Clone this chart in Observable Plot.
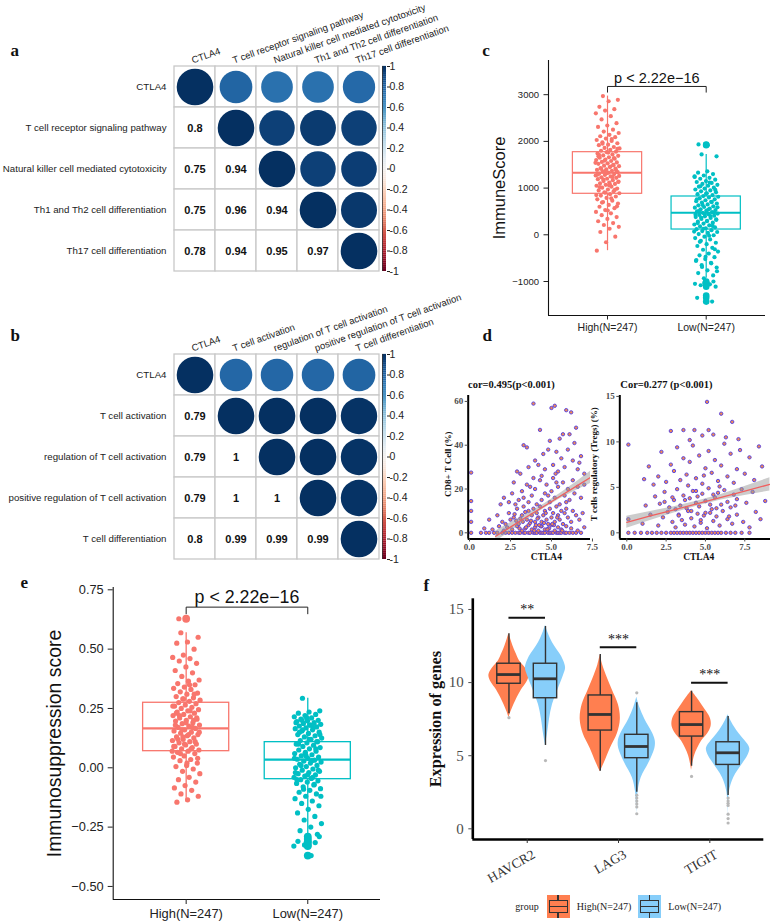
<!DOCTYPE html>
<html><head><meta charset="utf-8">
<script src="https://cdn.jsdelivr.net/npm/d3@7"></script>
<script src="https://cdn.jsdelivr.net/npm/@observablehq/plot@0.6"></script>
<style>
html,body{margin:0;padding:0;background:#fff;}
#fig{position:relative;width:779px;height:922px;overflow:hidden;background:#fff;}
#fig svg{position:absolute;}
.leg{position:absolute;font-family:"Liberation Serif","Times New Roman",serif;font-size:10px;color:#222;line-height:1;white-space:nowrap;}
.key{position:absolute;width:23px;height:23px;}
.key .wh{position:absolute;left:10.8px;width:1.5px;top:0;height:23px;background:#333;}
.key .bx{position:absolute;box-sizing:border-box;left:2px;top:5px;width:19px;height:13px;border:1.5px solid #333;background:inherit;}
.key .md{position:absolute;left:2px;top:10.7px;width:19px;height:1.6px;background:#333;}
</style></head>
<body><div id="fig">
<div class="leg" style="left:511px;top:902px;width:32px;text-align:center">group</div>
<div class="key" style="left:546.7px;top:895px;background:coral"><div class="wh"></div><div class="bx"></div><div class="md"></div></div>
<div class="leg" style="left:576.7px;top:902px">High(N=247)</div>
<div class="key" style="left:638px;top:895px;background:lightskyblue"><div class="wh"></div><div class="bx"></div><div class="md"></div></div>
<div class="leg" style="left:668.3px;top:902px">Low(N=247)</div>
</div>
<script>
// ================= DATA =================
// a: correlation matrix
const corrALabels = ["CTLA4","T cell receptor signaling pathway","Natural killer cell mediated cytotoxicity","Th1 and Th2 cell differentiation","Th17 cell differentiation"];
const corrAValues = [
  [1, 0.8, 0.75, 0.75, 0.78],
  [0.8, 1, 0.94, 0.96, 0.94],
  [0.75, 0.94, 1, 0.94, 0.95],
  [0.75, 0.96, 0.94, 1, 0.97],
  [0.78, 0.94, 0.95, 0.97, 1]];
// b: correlation matrix
const corrBLabels = ["CTLA4","T cell activation","regulation of T cell activation","positive regulation of T cell activation","T cell differentiation"];
const corrBValues = [
  [1, 0.79, 0.79, 0.79, 0.8],
  [0.79, 1, 1, 1, 0.99],
  [0.79, 1, 1, 1, 0.99],
  [0.79, 1, 1, 1, 0.99],
  [0.8, 0.99, 0.99, 0.99, 1]];
const colorbarTicks = [-1, -0.8, -0.6, -0.4, -0.2, 0, 0.2, 0.4, 0.6, 0.8, 1];

// c / e groups
const groupLabels = ["High(N=247)", "Low(N=247)"];
const pLabel = "p < 2.22e\u221216";

// c: ImmuneScore
const immuneHigh = [2970,2890,2860,2740,2690,2660,2600,2540,2470,2390,2340,2310,2250,2210,2180,2140,2110,2090,2060,2030,2010,1980,1960,1930,1920,1880,1860,1850,1820,1800,1780,1770,1740,1720,1700,1690,1660,1650,1630,1610,1600,1580,1560,1550,1530,1520,1500,1480,1470,1450,1430,1420,1400,1390,1370,1350,1340,1330,1310,1300,1280,1270,1250,1230,1220,1200,1190,1170,1150,1140,1120,1100,1090,1070,1050,1030,1010,990,970,950,930,910,890,870,840,820,790,760,730,700,670,640,600,570,530,490,460,420,380,340,290,250,210,170,130,60,-40,-160,-340,
 2050,1950,1840,1760,1710,1640,1590,1540,1460,1410,1380,1320,1290,1240,1180,1130,1060,1020,960,900,850,780,690,610,520,1680,1490,1360,1260,1080];
const immuneLow = [1720,1680,1360,1330,1300,1270,1250,1220,1200,1180,1150,1130,1110,1090,1070,1050,1030,1010,990,970,950,930,910,890,870,850,830,815,800,780,760,740,720,705,690,670,650,630,610,595,580,560,545,530,515,500,485,470,455,440,425,410,395,380,360,340,320,300,280,260,240,220,200,180,160,140,120,100,80,60,40,15,-10,-40,-70,-100,-130,-170,-200,-240,-280,-320,-360,-400,-440,-480,-520,-560,-600,-650,-700,-760,-820,-870,-930,
 1240,1120,1040,960,880,760,700,640,590,540,510,480,450,430,400,370,330,290,250,190,130,70,-20,-150,-310,-470,-540,-610,-690,-780];
const immuneHighOutliers = [];
const immuneLowOutliers = [1920,1935,-1000,-1030,-1050,-1060,-1080,-1110,-1300,-1350,-1430];
const immuneQ1 = [878, 113], immuneMedian = [1328, 471], immuneQ3 = [1769, 820];
const immuneWhiskerLow = [-340, -930], immuneWhiskerHigh = [2970, 1720];
const immuneTicks = [-1000, 0, 1000, 2000, 3000];

// d: scatter CTLA4 vs CD8+ T cell
const cd8X = [0.1,0.7,1.0,1.2,1.5,1.7,2.0,2.2,2.4,2.6,2.8,3.0,3.1,3.3,3.4,3.6,3.7,3.9,4.0,4.1,4.3,4.4,4.5,4.6,4.8,4.9,5.0,5.1,5.3,5.4,5.5,5.6,5.8,5.9,6.1,6.3,6.5,6.8,
 0.1,0.9,1.4,1.8,2.1,2.3,2.6,2.9,3.2,3.4,3.6,3.8,4.0,4.2,4.4,4.6,4.8,5.0,5.2,5.4,5.6,5.9,6.2,6.6,7.0,
 1.2,1.7,2.0,2.4,2.7,2.9,3.0,3.2,3.3,3.5,3.6,3.7,3.8,3.9,4.0,4.1,4.2,4.3,4.4,4.5,4.6,4.7,4.8,4.9,5.0,5.1,5.2,5.3,5.4,5.5,5.6,5.7,5.8,5.9,6.0,6.2,6.3,6.5,6.7,6.9,3.1,3.4,4.05,4.55,5.15,2.2,2.5,2.85,
 2.1,2.4,2.6,2.8,3.0,3.2,3.3,3.5,3.6,3.8,4.0,4.1,4.3,4.4,4.6,4.7,4.9,5.0,5.1,5.2,5.4,5.5,5.7,5.8,6.0,6.1,6.3,6.4,6.6,6.8,7.0,3.7,4.8,5.3,5.9,1.9,2.7,3.9,
 0.1,0.1,0.1,2.9,3.1,3.3,3.5,3.6,3.9,4.0,4.2,4.3,4.5,4.6,4.8,4.9,5.0,5.1,5.2,5.3,5.4,5.5,5.6,5.7,5.8,5.9,6.0,6.1,6.2,6.3,6.4,6.5,6.6,6.8,7.0,4.4,5.25,6.7,
 3.45,3.75,3.95,4.15,4.35,4.65,4.85,5.05,5.35,5.65,2.75,3.05,3.25,4.25,4.75];
const cd8Y = [0,0,0,0,0,0,0,0,0,0,0,0,0,0,0,0,0,0,0,0,0,0,0,0,0,0,0,0,0,0,0,0,0,0,0,0,0,0,
 5,2,1.5,3,1,2.5,1.5,3,1,2,3.5,1.5,2.5,1,3,1.5,2,3.5,1,2.5,1.5,3,2,1,2.5,
 6,8,5,9,7,11,4,8,12,6,10,4.5,8,11,5,9,7,12,5,8,10,6,4,11,7,9,5,12,8,6,10,4,9,11,7,5,10,8,6,9,6.5,9.5,3.5,4.5,3.5,4,6,5.5,
 16,14,18,13,15,19,16,22,14,17,20,13,24,15,18,22,14,19,25,16,21,13,23,17,20,15,24,18,21,16,22,21,17,23,14,13,23,25,
 27.5,14.5,10,28,27,40,39,30,59,33,31,47,36,29,38,42,57,31,58,37,28,43,34,45,30,56,38,45,55,33,41,48,29,35,27,26,27,32,
 2.5,5.5,1,6.5,3,9,2,4,7,1,8.5,2,5,3.5,1.5];
const cd8FitX = [1.6, 2.5, 3.5, 4.5, 5.5, 6.5, 7.4];
const cd8FitY = [-1.6, 2.6, 7.3, 11.9, 16.6, 21.2, 25.4];
const cd8FitLow = [-4.0, 0.6, 5.9, 10.9, 15.4, 19.3, 22.6];
const cd8FitHigh = [0.8, 4.6, 8.7, 12.9, 17.8, 23.1, 28.2];

// d: scatter CTLA4 vs Tregs
const tregX = [0.1,0.5,0.9,1.3,1.6,1.9,2.2,2.5,2.8,3.0,3.2,3.4,3.6,3.8,4.0,4.2,4.4,4.6,4.8,5.0,5.2,5.4,5.6,5.8,6.0,6.3,6.6,6.9,7.3,7.8,
 0.1,1.0,1.5,2.0,2.3,2.6,2.9,3.1,3.3,3.5,3.7,3.9,4.1,4.3,4.5,4.7,4.9,5.1,5.3,5.5,5.7,5.9,6.1,6.4,6.7,7.0,7.4,7.8,8.5,8.2,
 1.2,1.8,2.1,2.4,2.7,3.0,3.2,3.4,3.6,3.8,4.0,4.2,4.4,4.6,4.8,5.0,5.2,5.4,5.6,5.8,6.0,6.2,6.4,6.6,6.8,7.0,7.3,7.6,8.0,8.8,3.1,4.5,5.5,6.9,2.9,
 0.1,1.1,1.4,1.7,2.0,2.2,2.5,2.8,3.0,3.2,3.4,3.6,3.8,4.0,4.2,4.4,4.6,4.8,5.0,5.2,5.4,5.6,5.8,6.0,6.2,6.4,6.6,6.8,7.0,7.2,7.5,7.8,8.1,8.4,8.6,3.9,4.9,5.9,
 2.8,3.6,4.3,4.8,5.1,5.2,5.5,6.0,6.3,6.7,7.1,4.0,
 3.3,3.7,4.1,4.7,5.3,5.7,6.5,2.4,4.4,5.0];
const tregY = [0,0,0,0,0,0,0,0,0,0,0,0,0,0,0,0,0,0,0,0,0,0,0,0,0,0,0,0,0,0,
 1.5,1,2,0.8,1.7,2.3,1.2,0.6,2,1.4,0.9,2.4,1.6,0.7,2.1,1.1,1.9,0.5,2.2,1.3,1.8,0.8,2.4,1.5,1,2,1.2,0.6,1.5,2.3,
 3,4,3.2,4.5,2.8,3.6,4.8,3,4.1,2.7,3.8,4.6,3.3,2.9,4.3,3.5,4.9,2.6,3.9,4.4,3.1,4.7,3.4,2.8,4.2,3.7,4.8,3.3,4.5,3.5,2.6,4.0,4.2,3.0,3.9,
 9.7,5.9,7.3,5.3,6.2,8.9,5.6,7.5,6.8,9.4,5.8,8.2,6.4,7.8,9.6,6.0,8.5,5.4,7.1,9.0,6.6,8.0,5.7,7.4,9.8,6.2,8.7,5.5,7.0,9.1,6.5,8.3,5.8,9.5,7.3,5.2,6.3,5.1,
 11.2,11.3,11.3,10.7,14.4,11.3,10.8,13.1,10.5,12.2,10.3,10.2,
 1.9,3.6,2.4,1.4,3.1,2.7,1.8,3.4,4.6,2.2];
const tregFitX = [0, 1.5, 3, 4.5, 6, 7.5, 9.1];
const tregFitY = [1.16, 1.85, 2.53, 3.22, 3.91, 4.59, 5.33];
const tregFitLow = [0.5, 1.35, 2.18, 2.95, 3.6, 4.1, 4.6];
const tregFitHigh = [1.82, 2.35, 2.88, 3.49, 4.22, 5.08, 6.06];

// e: Immunosuppression score
const suppHigh = [0.569,0.55,0.53,0.525,0.50,0.475,0.465,0.46,0.45,0.44,0.425,0.41,0.40,0.385,0.37,0.365,0.355,0.35,0.34,0.335,0.33,0.32,0.315,0.31,0.30,0.295,0.29,0.285,0.28,0.275,0.27,0.265,0.26,0.255,0.25,0.245,0.24,0.235,0.23,0.225,0.22,0.215,0.21,0.205,0.20,0.197,0.19,0.186,0.18,0.176,0.17,0.166,0.16,0.155,0.15,0.146,0.14,0.135,0.13,0.126,0.12,0.115,0.11,0.105,0.10,0.096,0.09,0.085,0.08,0.075,0.07,0.065,0.06,0.05,0.045,0.035,0.03,0.02,0.01,0.005,-0.005,-0.015,-0.025,-0.04,-0.05,-0.06,-0.075,-0.085,-0.095,-0.11,-0.12,-0.135,-0.145,
 0.31,0.29,0.26,0.24,0.22,0.21,0.19,0.18,0.17,0.16,0.15,0.14,0.12,0.11,0.10,0.09,0.08,0.06,0.04,0.02,0.23,0.20,0.13,0.07,0.35];
const suppLow = [0.293,0.24,0.235,0.23,0.225,0.22,0.215,0.21,0.205,0.20,0.198,0.195,0.19,0.187,0.183,0.18,0.176,0.172,0.168,0.165,0.16,0.155,0.15,0.145,0.14,0.135,0.13,0.125,0.12,0.115,0.11,0.105,0.10,0.095,0.09,0.085,0.08,0.075,0.07,0.065,0.06,0.055,0.05,0.045,0.04,0.036,0.032,0.028,0.024,0.02,0.015,0.01,0.005,0.0,-0.005,-0.01,-0.015,-0.02,-0.025,-0.03,-0.035,-0.04,-0.045,-0.05,-0.055,-0.06,-0.066,-0.072,-0.08,-0.088,-0.095,-0.103,-0.11,-0.12,-0.13,-0.14,-0.15,-0.16,-0.175,-0.19,-0.205,-0.22,-0.235,-0.25,-0.265,-0.28,
 0.21,0.19,0.17,0.16,0.14,0.12,0.10,0.08,0.06,0.04,0.03,0.01,-0.01,-0.03,-0.05,-0.07,-0.09,-0.12,0.18,0.15,0.11,0.05,-0.02,-0.04,0.2];
const suppHighOutliers = [0.628];
const suppLowOutliers = [-0.29,-0.30,-0.31,-0.315,-0.325,-0.33,-0.37];
const suppQ1 = [0.070, -0.048], suppMedian = [0.166, 0.034], suppQ3 = [0.274, 0.108];
const suppWhiskerLow = [-0.145, -0.28], suppWhiskerHigh = [0.569, 0.293];
const suppTicks = [-0.5, -0.25, 0, 0.25, 0.5, 0.75];

// f: expression of genes
const genes = ["HAVCR2", "LAG3", "TIGIT"];
const violinHighY = [
  [7.6, 8.0, 8.5, 9.0, 9.5, 10.0, 10.5, 11.0, 11.5, 12.0, 12.5, 13.0, 13.35],
  [3.9, 4.5, 5.5, 6.5, 7.5, 8.5, 9.5, 10.5, 11.2, 11.9],
  [4.0, 5.0, 6.0, 6.5, 7.0, 7.5, 8.0, 8.5, 9.0, 9.45]];
const violinHighW = [
  [0, 0.1, 0.25, 0.42, 0.62, 0.88, 1.0, 0.82, 0.52, 0.35, 0.2, 0.08, 0],
  [0, 0.2, 0.5, 0.85, 1.0, 0.9, 0.6, 0.3, 0.12, 0],
  [0, 0.15, 0.5, 0.8, 0.97, 0.95, 0.75, 0.5, 0.25, 0]];
const violinLowY = [
  [5.7, 6.5, 7.5, 8.5, 9.5, 10.5, 11.0, 11.5, 12.0, 12.5, 13.0, 13.5, 13.9],
  [1.0, 2.5, 3.5, 4.5, 5.5, 6.0, 6.5, 7.5, 8.3, 9.0],
  [0.4, 2.5, 3.5, 4.5, 5.0, 5.5, 6.0, 6.5, 7.0, 7.5, 7.8]];
const violinLowW = [
  [0, 0.1, 0.2, 0.35, 0.62, 0.9, 1.0, 0.9, 0.7, 0.45, 0.25, 0.1, 0],
  [0, 0.06, 0.22, 0.6, 0.9, 0.92, 0.8, 0.4, 0.15, 0],
  [0, 0.06, 0.28, 0.75, 0.98, 1.08, 0.85, 0.55, 0.3, 0.1, 0]];
const exprHighQ1 = [9.92, 6.72, 6.31], exprHighMedian = [10.55, 7.82, 7.13], exprHighQ3 = [11.29, 9.12, 7.98];
const exprHighWhiskerLow = [7.87, 3.94, 4.28], exprHighWhiskerHigh = [13.34, 11.92, 9.41];
const exprLowQ1 = [8.93, 4.83, 4.37], exprLowMedian = [10.26, 5.63, 5.2], exprLowQ3 = [11.29, 6.43, 5.92];
const exprLowWhiskerLow = [5.7, 2.5, 2.28], exprLowWhiskerHigh = [13.84, 8.62, 7.68];
const exprHighOutliers = [[7.6], [], [3.58]];
const exprLowOutliers = [[4.67], [9.3, 2.3, 2.1, 1.9, 1.7, 1.5, 1.03], [2.1, 1.9, 1.75, 1.6, 1.0, 0.7, 0.4]];
const sigLabels = ["**", "***", "***"];
const sigY = [14.43, 12.42, 9.99];
const exprTicks = [0, 5, 10, 15];

// ================= DRAWING =================
const fig = document.getElementById("fig");
function place(svg, left, top) { svg.style.left = left + "px"; svg.style.top = top + "px"; fig.appendChild(svg); }
const SANS = "'Liberation Sans', Arial, sans-serif";
const SERIF = "'Liberation Serif', 'Times New Roman', serif";
const baseStyle = (font, ov) => `position:absolute;background:transparent;overflow:${ov || "visible"};font-family:${font};`;
const jit = i => ((i * 0.6180339887 + 0.31) % 1) - 0.5;
const letterMark = (t, dx, dy) => Plot.text([t], {frameAnchor: "top-left", dx, dy, textAnchor: "start", lineAnchor: "bottom", fontFamily: SERIF, fontWeight: "bold", fontSize: 17, fill: "#111"});

function corrPlot(labels, mat, letter, letterDy) {
  const cells = [];
  labels.forEach((r, i) => labels.forEach((c, j) => cells.push({row: r, col: c, v: mat[i][j], i, j})));
  const fmt = v => String(+v.toFixed(2));
  return Plot.plot({
    width: 470, height: 285, marginLeft: 173, marginRight: 91, marginTop: 66, marginBottom: 14,
    style: baseStyle(SANS),
    x: {type: "band", domain: labels, padding: 0, axis: null},
    y: {type: "band", domain: labels, padding: 0, axis: null},
    r: {type: "sqrt", domain: [0, 1], range: [0, 18.3]},
    color: {type: "linear", domain: [-1, 1], scheme: "RdBu"},
    marks: [
      Plot.cell(cells, {x: "col", y: "row", fill: "white", stroke: "#c8c8c8", strokeWidth: 1.3, inset: 0}),
      Plot.dot(cells.filter(d => d.j >= d.i), {x: "col", y: "row", r: d => Math.abs(d.v), fill: "v"}),
      Plot.text(cells.filter(d => d.j < d.i), {x: "col", y: "row", text: d => fmt(d.v), fontSize: 11, fontWeight: "bold", fill: "#111"}),
      Plot.text(labels, {y: d => d, frameAnchor: "left", dx: -7, textAnchor: "end", fontSize: 9.7, fill: "#222"}),
      Plot.text(labels, {x: d => d, frameAnchor: "top", dx: -2, dy: -3, rotate: -19.5, textAnchor: "start", lineAnchor: "bottom", fontSize: 9.5, fill: "#222"}),
      letterMark(letter, -163, letterDy)
    ]
  });
}
function colorbar() {
  const stops = d3.range(-1, 1, 0.02);
  return Plot.plot({
    width: 40, height: 220, marginLeft: 6, marginRight: 30, marginTop: 6, marginBottom: 9,
    style: baseStyle(SANS),
    x: {domain: [0, 1], axis: null},
    y: {domain: [-1, 1], axis: null},
    color: {type: "linear", domain: [-1, 1], scheme: "RdBu"},
    marks: [
      Plot.rect(stops, {x1: 0, x2: 1, y1: d => d, y2: d => d + 0.021, fill: d => d + 0.01}),
      Plot.ruleX([0], {stroke: "#333", strokeWidth: 0.8}),
      Plot.axisY({anchor: "right", ticks: colorbarTicks, tickSize: 3, tickPadding: 0, tickFormat: d => String(+d.toFixed(1)), fontSize: 10.5, color: "#222", label: null})
    ]
  });
}

place(corrPlot(corrALabels, corrAValues, "a", -11), 0, 0);
place(colorbar(), 376, 60);
place(corrPlot(corrBLabels, corrBValues, "b", -14), 0, 288);
place(colorbar(), 376, 348);

function boxPanel(o) {
  const marks = [];
  const colors = ["#F8766D", "#00BFC4"];
  [0, 1].forEach(g => {
    const pos = g + 1, col = colors[g];
    const s = [{q1: o.q1[g], med: o.med[g], q3: o.q3[g], lo: o.lo[g], hi: o.hi[g]}];
    marks.push(Plot.ruleX(s, {x: () => pos, y1: "lo", y2: "hi", stroke: col, strokeWidth: o.lw}));
    marks.push(Plot.rect(s, {x1: () => pos - o.half, x2: () => pos + o.half, y1: "q1", y2: "q3", fill: "white", stroke: col, strokeWidth: o.lw}));
    marks.push(Plot.ruleY(s, {y: "med", x1: () => pos - o.half, x2: () => pos + o.half, stroke: col, strokeWidth: o.lw * 1.7}));
    const pts = o.points[g].concat(o.outliers[g]);
    marks.push(Plot.dot(pts, {x: (d, i) => pos + jit(i) * o.jw, y: d => d, r: o.pr, fill: col, stroke: null}));
    marks.push(Plot.dot(o.outliers[g], {x: () => pos, y: d => d, r: o.or, fill: col, stroke: null}));
  });
  const y0 = o.yDomain[0], x0 = o.xDomain[0];
  return Plot.plot({
    width: o.width, height: o.height, marginLeft: o.ml, marginRight: o.mr, marginTop: o.mt, marginBottom: o.mb,
    style: baseStyle(SANS),
    x: {domain: o.xDomain}, y: {domain: o.yDomain},
    marks: [
      ...marks,
      Plot.ruleX([x0], {stroke: "#111", strokeWidth: 1.1}),
      Plot.ruleY([y0], {stroke: "#111", strokeWidth: 1.1}),
      Plot.axisY({ticks: o.yTicks, tickSize: o.tick, tickPadding: o.ypad, tickFormat: o.yFormat, fontSize: o.yfs, color: "#222", label: null}),
      Plot.axisX({ticks: [1, 2], tickSize: o.tick, tickPadding: o.xpad, tickFormat: i => groupLabels[i - 1], fontSize: o.xfs, color: "#222", label: null}),
      Plot.line([{x: 1, y: o.bTick}, {x: 1, y: o.bBar}, {x: 2, y: o.bBar}, {x: 2, y: o.bTick}], {x: "x", y: "y", stroke: "#222", strokeWidth: 1}),
      Plot.text([pLabel], {x: 1.5, y: o.pY, fontSize: o.pfs, fill: "#111", lineAnchor: "middle"}),
      Plot.text([o.yLabel], {frameAnchor: "left", dx: o.ylabDx, rotate: -90, textAnchor: "middle", lineAnchor: "middle", fontSize: o.ylfs, fill: "#111"}),
      letterMark(o.letter, o.letterDx, o.letterDy)
    ]
  });
}

// c
place(boxPanel({
  width: 379, height: 300, ml: 148, mr: 14, mt: 20, mb: 25,
  xDomain: [0.402, 2.601], yDomain: [-1728, 3732],
  q1: immuneQ1, med: immuneMedian, q3: immuneQ3, lo: immuneWhiskerLow, hi: immuneWhiskerHigh,
  points: [immuneHigh, immuneLow], outliers: [immuneHighOutliers, immuneLowOutliers],
  half: 0.351, jw: 0.245, pr: 2.1, or: 3.3, lw: 1.2,
  yTicks: immuneTicks, yFormat: d => (d < 0 ? "\u2212" : "") + Math.abs(d), tick: 4.5, ypad: 5, xpad: 4, yfs: 9.5, xfs: 10.5,
  bBar: 3176, bTick: 3054, pY: 3340, pfs: 14.5,
  yLabel: "ImmuneScore", ylabDx: -49, ylfs: 16.5,
  letter: "c", letterDx: -66.3, letterDy: -5
}), 400, 40);

// e
place(boxPanel({
  width: 390, height: 352, ml: 112.7, mr: 10, mt: 17, mb: 23,
  xDomain: [0.4, 2.598], yDomain: [-0.555, 0.7597],
  q1: suppQ1, med: suppMedian, q3: suppQ3, lo: suppWhiskerLow, hi: suppWhiskerHigh,
  points: [suppHigh, suppLow], outliers: [suppHighOutliers, suppLowOutliers],
  half: 0.354, jw: 0.23, pr: 2.6, or: 3.9, lw: 1.3,
  yTicks: suppTicks, yFormat: d => (d < 0 ? "\u2212" : "") + Math.abs(d).toFixed(2), tick: 5, ypad: 4.5, xpad: 4.5, yfs: 12.8, xfs: 12.9,
  bBar: 0.677, bTick: 0.649, pY: 0.717, pfs: 17.8,
  yLabel: "Immunosuppression score", ylabDx: -58, ylfs: 19.4,
  letter: "e", letterDx: -92.7, letterDy: 0
}), 0, 570);

// d scatter plots
function scatterPanel(o) {
  const pts = o.xs.map((x, i) => ({x, y: o.ys[i]}));
  const fit = o.fx.map((x, i) => ({x, y: o.fy[i], lo: o.flo[i], hi: o.fhi[i]}));
  const marks = [
    Plot.dot(pts, {x: "x", y: "y", r: 1.7, fill: "#ee8a55", stroke: "#4b36e2", strokeOpacity: 0.85, strokeWidth: 1}),
    Plot.areaY(fit, {x: "x", y1: "lo", y2: "hi", fill: "#9a9a9a", fillOpacity: 0.5, clip: true}),
    Plot.line(fit, {x: "x", y: "y", stroke: "#f0605f", strokeWidth: 1.3, clip: true}),
    Plot.ruleX([o.xDomain[0]], {stroke: "#000", strokeWidth: 2}),
    Plot.ruleY([o.yDomain[0]], {stroke: "#000", strokeWidth: 2}),
    Plot.axisY({ticks: o.yTicks, tickSize: 3, tickPadding: 2, fontSize: 9, fontWeight: "bold", color: "#4d4d4d", label: null}),
    Plot.axisX({ticks: o.xTicks, tickSize: 3, tickPadding: 1.3, tickFormat: d => d.toFixed(1), fontSize: 9, fontWeight: "bold", color: "#4d4d4d", label: null}),
    Plot.text([o.title], {frameAnchor: "top", dx: o.titleDx, dy: -11, lineAnchor: "middle", fontWeight: "bold", fontSize: 10.5, fill: "#111"}),
    Plot.text(["CTLA4"], {frameAnchor: "bottom", dx: o.xlabDx, dy: 18.2, lineAnchor: "middle", fontWeight: "bold", fontSize: 9.5, fill: "#111"}),
    Plot.text([o.yLabel], {frameAnchor: "left", dx: o.ylabDx, dy: -3, rotate: -90, textAnchor: "middle", lineAnchor: "middle", fontWeight: "bold", fontSize: 9, fill: "#111"})
  ];
  if (o.letter) marks.push(Plot.text([o.letter], {frameAnchor: "top-left", dx: 14.3, dy: -55, textAnchor: "start", lineAnchor: "bottom", fontFamily: SERIF, fontWeight: "bold", fontSize: 17, fill: "#111"}));
  return Plot.plot({
    width: o.width, height: 250, marginLeft: o.ml, marginRight: o.mr, marginTop: 75, marginBottom: 31.5,
    style: baseStyle(SERIF),
    x: {domain: o.xDomain}, y: {domain: o.yDomain},
    marks
  });
}
place(scatterPanel({
  xs: cd8X, ys: cd8Y, fx: cd8FitX, fy: cd8FitY, flo: cd8FitLow, fhi: cd8FitHigh,
  width: 194, ml: 67.7, mr: 4, xDomain: [-0.079, 7.38], yDomain: [-2.83, 62.7],
  yTicks: [0, 20, 40, 60], xTicks: [0, 2.5, 5, 7.5],
  title: "cor=0.495(p<0.001)", titleDx: -18, xlabDx: 17, yLabel: "CD8+ T Cell (%)", ylabDx: -19.7, letter: "d"
}), 400, 320);
place(scatterPanel({
  xs: tregX, ys: tregY, fx: tregFitX, fy: tregFitY, flo: tregFitLow, fhi: tregFitHigh,
  width: 219, ml: 59.3, mr: 9, xDomain: [-0.445, 9.136], yDomain: [-0.68, 15.1],
  yTicks: [0, 5, 10, 15], xTicks: [0, 2.5, 5, 7.5],
  title: "Cor=0.277 (p<0.001)", titleDx: -28.7, xlabDx: 3.6, yLabel: "T cells regulatory (Tregs) (%)", ylabDx: -25.5
}), 560, 320);

// f
(function () {
  const maxHalf = 0.22, dodge = 0.2, half = 0.128;
  const marks = [];
  const groups = [
    {fill: "coral", sign: -1, vy: violinHighY, vw: violinHighW, q1: exprHighQ1, med: exprHighMedian, q3: exprHighQ3, lo: exprHighWhiskerLow, hi: exprHighWhiskerHigh, out: exprHighOutliers},
    {fill: "lightskyblue", sign: 1, vy: violinLowY, vw: violinLowW, q1: exprLowQ1, med: exprLowMedian, q3: exprLowQ3, lo: exprLowWhiskerLow, hi: exprLowWhiskerHigh, out: exprLowOutliers}];
  groups.forEach(G => genes.forEach((gene, gi) => {
    const c = gi + 1 + G.sign * dodge;
    const prof = G.vy[gi].map((y, k) => ({y, w: G.vw[gi][k]}));
    marks.push(Plot.areaX(prof, {y: "y", x1: d => c - d.w * maxHalf, x2: d => c + d.w * maxHalf, fill: G.fill, curve: "catmull-rom"}));
  }));
  groups.forEach(G => genes.forEach((gene, gi) => {
    const c = gi + 1 + G.sign * dodge;
    const s = [{q1: G.q1[gi], med: G.med[gi], q3: G.q3[gi], lo: G.lo[gi], hi: G.hi[gi]}];
    marks.push(Plot.ruleX(s, {x: () => c, y1: "q3", y2: "hi", stroke: "#333", strokeWidth: 1.4}));
    marks.push(Plot.ruleX(s, {x: () => c, y1: "lo", y2: "q1", stroke: "#333", strokeWidth: 1.4}));
    marks.push(Plot.rect(s, {x1: () => c - half, x2: () => c + half, y1: "q1", y2: "q3", fill: G.fill, stroke: "#333", strokeWidth: 1.4}));
    marks.push(Plot.ruleY(s, {y: "med", x1: () => c - half, x2: () => c + half, stroke: "#333", strokeWidth: 2.8}));
    marks.push(Plot.dot(G.out[gi], {x: () => c, y: d => d, r: 1.6, fill: "#b8b8b8", stroke: null}));
  }));
  const sig = genes.map((g, i) => ({x: i + 1, y: sigY[i], t: sigLabels[i]}));
  marks.push(Plot.ruleY(sig, {y: "y", x1: d => d.x - dodge, x2: d => d.x + dodge, stroke: "#111", strokeWidth: 2}));
  marks.push(Plot.text(sig, {x: "x", y: d => d.y + 0.55, text: "t", fontSize: 14, fill: "#111", lineAnchor: "middle"}));
  marks.push(Plot.ruleX([0.404], {stroke: "#000", strokeWidth: 2.6}));
  marks.push(Plot.ruleY([-0.73], {stroke: "#000", strokeWidth: 2.6}));
  marks.push(Plot.axisY({ticks: exprTicks, tickSize: 4, tickPadding: 5, fontSize: 15, color: "#4d4d4d", label: null}));
  marks.push(Plot.axisX({ticks: [1, 2, 3], tickSize: 4, tickFormat: () => "", color: "#333", label: null}));
  marks.push(Plot.text(genes, {x: (d, i) => i + 1, frameAnchor: "bottom", dx: 4, dy: 9.3, rotate: -30, textAnchor: "end", lineAnchor: "top", fontSize: 13.5, fill: "#333"}));
  marks.push(Plot.text(["Expression of genes"], {frameAnchor: "left", dx: -37.3, rotate: -90, textAnchor: "middle", lineAnchor: "middle", fontWeight: "bold", fontSize: 16.3, fill: "#111"}));
  marks.push(letterMark("f", -49.3, -8.3));
  place(Plot.plot({
    width: 389, height: 300, marginLeft: 82.3, marginRight: 15.7, marginTop: 28.3, marginBottom: 31,
    style: baseStyle(SERIF),
    x: {domain: [0.404, 3.591]}, y: {domain: [-0.73, 15.73]},
    marks
  }), 390, 570);
})();
</script></body></html>
